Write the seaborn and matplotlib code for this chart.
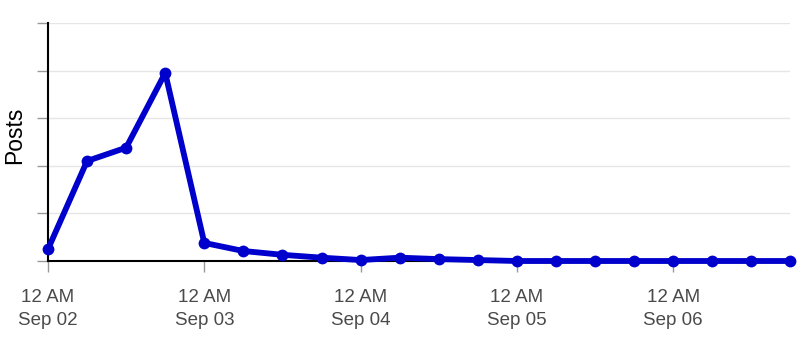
import matplotlib
matplotlib.use("Agg")
import matplotlib.pyplot as plt
import seaborn as sns
import pandas as pd

times = pd.date_range("2013-09-02 00:00", periods=20, freq="6h")
posts = [0.25, 2.1, 2.38, 3.95, 0.38, 0.21, 0.13, 0.07, 0.02, 0.07,
         0.04, 0.02, 0.0, 0.0, 0.0, 0.0, 0.0, 0.0, 0.0, 0.0]
xticks = pd.date_range("2013-09-02", periods=5, freq="D")
xtick_labels = ["12 AM\nSep 02", "12 AM\nSep 03", "12 AM\nSep 04", "12 AM\nSep 05", "12 AM\nSep 06"]
yticks = [0, 1, 2, 3, 4, 5]

df = pd.DataFrame({"time": times, "posts": posts})

sns.set_style("white")
plt.rcParams["font.family"] = ["Liberation Sans", "DejaVu Sans"]

fig = plt.figure(figsize=(8, 3.37), dpi=100)
ax = fig.add_axes([0.06, 0.2255, 0.928, 0.7065])

sns.lineplot(data=df, x="time", y="posts", ax=ax, color="#0000cc",
             linewidth=4.2, marker="o", markersize=8.5, markeredgewidth=0,
             clip_on=False, zorder=5)

ax.set_xlim(times[0], times[-1])
ax.set_ylim(0, 5)
ax.set_yticks(yticks)
ax.set_yticklabels([])
ax.set_xticks(xticks)
ax.set_xticklabels(xtick_labels, color="#4a4a4a", fontsize=13.5, linespacing=1.45)
ax.yaxis.grid(True, color="#e6e6e6", linewidth=1)
ax.xaxis.grid(False)
ax.set_xlabel("")
ax.set_ylabel("Posts", fontsize=16.5, color="black")
ax.yaxis.set_label_coords(-0.030, 0.53)

for s in ["top", "right"]:
    ax.spines[s].set_visible(False)
ax.spines["left"].set_color("black")
ax.spines["left"].set_linewidth(1.5)
ax.spines["bottom"].set_color("black")
ax.spines["bottom"].set_linewidth(1.5)
ax.spines["bottom"].set_zorder(1)

ax.tick_params(axis="x", which="major", bottom=True, length=8, width=1, color="#999999", pad=12.5)
ax.tick_params(axis="y", which="major", left=True, length=8, width=1, color="#999999")

fig.savefig("out.png", dpi=100)
